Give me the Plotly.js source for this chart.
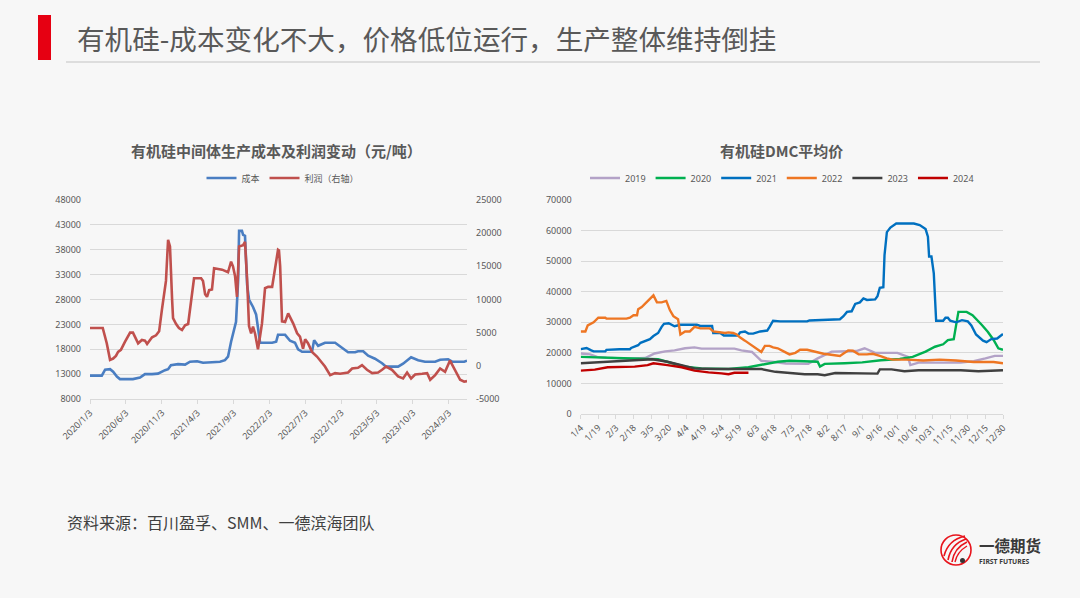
<!DOCTYPE html>
<html>
<head>
<meta charset="utf-8">
<script src="https://cdn.plot.ly/plotly-3.0.1.min.js"></script>
<style>
html,body{margin:0;padding:0;background:#f7f7f7;}
#chart{width:1080px;height:598px;}
</style>
</head>
<body>
<div id="chart"></div>
<script>
// ---------- Left chart: 有机硅中间体生产成本及利润变动 ----------
const costDates = ['2020-01-03','2020-02-22','2020-03-07','2020-03-28','2020-04-10','2020-04-26','2020-05-09','2020-07-03','2020-08-02','2020-08-23',
 '2020-09-22','2020-10-17','2020-11-16','2020-11-29','2020-12-11','2021-01-10','2021-02-09','2021-03-02','2021-04-01','2021-04-26',
 '2021-06-03','2021-07-07','2021-07-28','2021-08-10','2021-08-23','2021-09-04','2021-09-13','2021-09-22','2021-09-26','2021-10-08',
 '2021-10-13','2021-10-21','2021-10-30','2021-11-07','2021-11-24','2021-12-07','2021-12-15','2021-12-24','2022-02-13','2022-03-02',
 '2022-03-10','2022-04-09','2022-04-30','2022-05-21','2022-06-03','2022-06-20','2022-08-01','2022-08-10','2022-08-27','2022-09-25',
 '2022-11-07','2022-12-06','2023-01-01','2023-01-31','2023-02-12','2023-03-06','2023-03-27','2023-04-25','2023-05-25','2023-06-11',
 '2023-08-01','2023-08-22','2023-09-25','2023-10-25','2023-11-23','2024-01-05','2024-01-26','2024-02-29','2024-03-17','2024-05-07',
 '2024-05-19'];
const costValues = [12700,12700,13900,14000,13500,12500,12000,12000,12300,13000,
 13000,13100,13800,14000,14800,15000,14900,15500,15600,15300,
 15400,15500,15800,16500,19500,22000,23500,32000,41800,41800,
 41000,40800,31000,28000,26500,25000,22000,19300,19300,19500,
 20900,20900,19700,19300,18000,17500,17500,19800,18700,19300,
 19300,18200,17400,17400,17600,17600,16700,16100,15200,14500,
 14500,15100,16400,15800,15500,15500,15900,16000,15500,15500,
 15700];

const profitDates = ['2020-01-03','2020-02-26','2020-03-14','2020-03-28','2020-04-10','2020-04-22','2020-05-01','2020-05-13','2020-05-30','2020-06-21',
 '2020-07-03','2020-07-16','2020-07-25','2020-08-10','2020-08-23','2020-09-01','2020-09-22','2020-10-09','2020-10-22','2020-11-03',
 '2020-11-12','2020-11-20','2020-11-29','2020-12-07','2020-12-16','2020-12-20','2021-01-02','2021-01-14','2021-01-27','2021-02-09',
 '2021-02-22','2021-03-06','2021-03-19','2021-04-18','2021-04-26','2021-05-05','2021-05-13','2021-05-22','2021-06-03','2021-06-12',
 '2021-07-16','2021-08-10','2021-08-23','2021-08-31','2021-09-09','2021-09-17','2021-09-26','2021-10-13','2021-10-21','2021-10-30',
 '2021-11-07','2021-11-16','2021-11-24','2021-12-03','2021-12-15','2021-12-24','2022-01-01','2022-01-14','2022-01-27','2022-02-13',
 '2022-02-25','2022-03-10','2022-03-14','2022-03-19','2022-03-27','2022-04-09','2022-04-22','2022-05-13','2022-05-30','2022-06-11',
 '2022-06-24','2022-07-03','2022-07-15','2022-08-01','2022-08-22','2022-09-13','2022-09-25','2022-10-17','2022-11-07','2022-11-28',
 '2023-01-01','2023-01-18','2023-02-12','2023-03-01','2023-03-22','2023-04-13','2023-05-08','2023-05-25','2023-06-11','2023-07-06',
 '2023-08-01','2023-08-22','2023-09-08','2023-09-25','2023-10-12','2023-11-11','2023-12-02','2023-12-15','2024-01-05','2024-01-26',
 '2024-02-16','2024-03-08','2024-03-29','2024-04-20','2024-05-07','2024-05-19'];
const profitValues = [5700,5700,3400,900,1100,1500,2100,2400,3600,5000,
 5000,4100,3400,3900,3800,3300,4300,4600,5200,8500,
 10500,12800,19000,18000,10000,7200,6300,5700,5400,6100,
 6300,9500,13200,13200,12800,10800,10400,11400,11500,14700,
 14500,14100,15700,15000,13500,10400,18000,18200,18700,13000,
 6000,4900,5900,4800,2500,4500,6400,11700,11900,11900,
 14900,17500,17400,15000,6700,6600,7900,6400,4900,4400,
 2600,4000,3400,2100,1400,400,-100,-1400,-1100,-1200,
 -1000,-400,-300,100,-600,-1100,-1000,-600,-100,-600,
 -1600,-1900,-1000,-1900,-1300,-1200,-1100,-2100,-1400,-400,
 -900,800,-600,-2100,-2400,-2300];

const leftTickDates = ['2020-01-03','2020-06-03','2020-11-03','2021-04-03','2021-09-03','2022-02-03','2022-07-03','2022-12-03','2023-05-03','2023-10-03','2024-03-03'];
const leftTickText  = ['2020/1/3','2020/6/3','2020/11/3','2021/4/3','2021/9/3','2022/2/3','2022/7/3','2022/12/3','2023/5/3','2023/10/3','2024/3/3'];
const leftYTicks  = [8000,13000,18000,23000,28000,33000,38000,43000,48000];
const rightYTicks = [-5000,0,5000,10000,15000,20000,25000];

// ---------- Right chart: 有机硅DMC平均价 (x = day index from 1/4) ----------
const day2019 = [0,8,14,22,40,55,63,72,80,89,97,103,131,137,146,150,154,165,175,194,202,214,225,235,242,251,270,279,281,288,324,335,345,353,360];
const val2019 = [19800,19500,18700,18400,18100,18300,19800,20500,20800,21500,21800,21400,21400,20800,20300,18700,17400,17000,16500,16400,18200,20400,20400,20600,21500,20000,20000,18700,16000,16800,16800,17300,18200,19000,19000];

const day2020 = [0,23,46,66,78,89,103,126,143,157,168,178,193,202,204,208,225,240,256,272,283,294,302,309,313,318,320,322,329,334,342,347,352,356,360];
const val2020 = [18700,18400,18100,17900,16600,15500,14900,14700,15300,16350,17100,17400,17200,17100,15500,16400,16600,16900,17600,18000,18700,20400,22000,22800,24200,24500,29000,33400,33400,32300,29100,26900,24200,21500,21000];

const day2021 = [0,5,9,11,21,22,33,42,43,46,49,51,56,59,62,66,69,71,75,78,80,85,99,102,112,113,119,122,134,136,140,143,147,153,159,161,164,170,193,195,
 215,221,224,227,231,234,238,241,244,251,253,255,258,259,261,264,269,284,289,294,296,297,299,301,303,309,311,313,315,320,325,330,333,337,343,346,350,355,360];
const val2021 = [21200,21600,20800,20500,20500,21000,21200,21200,21600,22000,22500,23300,24000,24500,25500,26500,28500,29500,29700,29200,28700,29200,29200,28800,28800,26500,26500,25700,25700,26700,27000,26300,26300,27000,27300,28500,30500,30300,30300,30600,
 30800,31000,32000,33400,33600,36000,36500,37800,37300,37500,38500,41300,41500,52000,59500,61000,62300,62300,61800,60500,58000,51500,51500,46000,30500,30500,31500,31500,30500,30000,30700,30300,29000,26000,24000,23500,24500,24700,26200];

const day2022 = [0,4,6,11,15,21,22,39,42,45,48,49,52,56,60,62,65,69,73,76,79,83,85,89,93,97,102,110,113,119,123,126,130,133,136,140,144,150,154,157,
 161,164,168,173,178,183,187,193,201,207,215,221,225,228,232,237,244,249,255,261,266,278,292,306,320,329,335,352,360];
const val2022 = [27000,27000,29000,30000,31500,31500,31200,31200,31500,32300,32300,34300,35000,36500,38000,38800,36500,36500,37000,34000,32000,31000,26000,27000,27000,28500,28000,28000,27000,26800,26500,26700,26500,26000,25000,24000,23000,21500,20300,22300,
 22300,21800,21500,20500,19500,20000,21000,21000,20300,19700,19300,19000,20000,20800,20700,19500,19500,19700,19000,18200,17800,17800,17500,17800,17500,17200,17000,17000,16600];

const day2023 = [0,23,46,61,74,86,97,115,154,166,174,191,202,208,217,248,253,255,265,276,288,324,339,360];
const val2023 = [16600,17100,17650,17900,17100,16000,14900,14700,14700,13800,13600,13000,13000,12700,13400,13400,13200,14600,14600,14000,14300,14300,14000,14300];

const day2024 = [0,12,23,46,57,62,74,86,97,109,120,126,131,143];
const val2024 = [14200,14500,15300,15500,16000,16600,16000,15300,14200,13600,13300,13000,13500,13500];

const dmcTickDays = [0,15,30,45,60,75,90,105,120,135,150,165,180,195,210,225,240,255,270,285,300,315,330,345,360];
const dmcTickText = ['1/4','1/19','2/3','2/18','3/5','3/20','4/4','4/19','5/4','5/19','6/3','6/18','7/3','7/18','8/2','8/17','9/1','9/16','10/1','10/16','10/31','11/15','11/30','12/15','12/30'];
const dmcYTicks = [0,10000,20000,30000,40000,50000,60000,70000];

// ---------- helpers (pixel -> paper) ----------
const W = 1080, H = 598;
const px = x => x / W;
const py = y => 1 - y / H;
const CJK = '"Noto Sans CJK SC", "Noto Sans", sans-serif';
const NUM = '"Noto Sans", "DejaVu Sans", sans-serif';
const GRID = '#d9d9d9';
const TXT = '#595959';
const asText = arr => arr.map(v => String(v));

const traces = [
  {x: costDates, y: costValues, name: '成本', type: 'scatter', mode: 'lines',
   line: {color: '#4a7ec2', width: 2.6}, xaxis: 'x', yaxis: 'y', legend: 'legend'},
  {x: profitDates, y: profitValues, name: '利润（右轴）', type: 'scatter', mode: 'lines',
   line: {color: '#c0504d', width: 2.6}, xaxis: 'x', yaxis: 'y2', legend: 'legend'},
  {x: day2019, y: val2019, name: '2019', type: 'scatter', mode: 'lines', line: {color: '#b3a2c7', width: 2.4}, xaxis: 'x3', yaxis: 'y3', legend: 'legend2'},
  {x: day2020, y: val2020, name: '2020', type: 'scatter', mode: 'lines', line: {color: '#00b050', width: 2.4}, xaxis: 'x3', yaxis: 'y3', legend: 'legend2'},
  {x: day2021, y: val2021, name: '2021', type: 'scatter', mode: 'lines', line: {color: '#0070c0', width: 2.4}, xaxis: 'x3', yaxis: 'y3', legend: 'legend2'},
  {x: day2022, y: val2022, name: '2022', type: 'scatter', mode: 'lines', line: {color: '#ee7623', width: 2.4}, xaxis: 'x3', yaxis: 'y3', legend: 'legend2'},
  {x: day2023, y: val2023, name: '2023', type: 'scatter', mode: 'lines', line: {color: '#404040', width: 2.4}, xaxis: 'x3', yaxis: 'y3', legend: 'legend2'},
  {x: day2024, y: val2024, name: '2024', type: 'scatter', mode: 'lines', line: {color: '#c00000', width: 2.4}, xaxis: 'x3', yaxis: 'y3', legend: 'legend2'}
];

const tickFont = {family: NUM, size: 9, color: TXT};

const layout = {
  width: W, height: H,
  margin: {l: 0, r: 0, t: 0, b: 0},
  paper_bgcolor: '#f7f7f7',
  plot_bgcolor: '#f7f7f7',
  font: {family: CJK, size: 9, color: TXT},
  showlegend: true,
  xaxis: {
    domain: [px(90), px(467)], anchor: 'y', type: 'date',
    range: ['2020-01-03', '2024-05-19'],
    tickmode: 'array', tickvals: leftTickDates, ticktext: leftTickText,
    tickangle: -45, tickfont: tickFont,
    showgrid: false, zeroline: false,
    showline: true, linecolor: GRID, linewidth: 1,
    ticks: 'outside', ticklen: 4, tickcolor: GRID
  },
  yaxis: {
    domain: [py(399), py(200)], anchor: 'x',
    range: [8000, 48000], tickmode: 'array', tickvals: leftYTicks, ticktext: asText(leftYTicks),
    tickfont: tickFont, showgrid: true, gridcolor: GRID, gridwidth: 1,
    zeroline: false, showline: false, ticks: '', ticklabelstandoff: 8
  },
  yaxis2: {
    overlaying: 'y', side: 'right', anchor: 'x',
    range: [-5000, 25000], tickmode: 'array', tickvals: rightYTicks, ticktext: asText(rightYTicks),
    tickfont: tickFont, showgrid: false, zeroline: false, showline: false,
    ticks: '', ticklabelstandoff: 8
  },
  xaxis3: {
    domain: [px(580.7), px(1003)], anchor: 'y3',
    range: [0, 360], tickmode: 'array', tickvals: dmcTickDays, ticktext: dmcTickText,
    tickangle: -45, tickfont: tickFont,
    showgrid: false, zeroline: false,
    showline: true, linecolor: GRID, linewidth: 1,
    ticks: 'outside', ticklen: 4, tickcolor: GRID
  },
  yaxis3: {
    domain: [py(414), py(200)], anchor: 'x3',
    range: [0, 70000], tickmode: 'array', tickvals: dmcYTicks, ticktext: asText(dmcYTicks),
    tickfont: tickFont, showgrid: true, gridcolor: GRID, gridwidth: 1,
    zeroline: false, showline: false, ticks: '', ticklabelstandoff: 8
  },
  legend: {
    orientation: 'h', x: px(283), xanchor: 'center', y: py(178), yanchor: 'middle',
    bgcolor: 'rgba(0,0,0,0)', font: {family: CJK, size: 9, color: TXT},
    itemwidth: 30, tracegroupgap: 0
  },
  legend2: {
    orientation: 'h', x: px(782), xanchor: 'center', y: py(178), yanchor: 'middle',
    bgcolor: 'rgba(0,0,0,0)', font: {family: NUM, size: 9, color: TXT},
    itemwidth: 30, tracegroupgap: 0
  },
  shapes: [
    // header red bar
    {type: 'rect', xref: 'paper', yref: 'paper', x0: px(38), x1: px(51), y0: py(60), y1: py(15),
     fillcolor: '#e60012', line: {width: 0}},
    // header divider
    {type: 'line', xref: 'paper', yref: 'paper', x0: px(66), x1: px(1040), y0: py(62), y1: py(62),
     line: {color: '#d4d4d4', width: 1.5}},
    // logo circle
    {type: 'circle', xref: 'paper', yref: 'paper', x0: px(941), x1: px(971), y0: py(565), y1: py(535),
     line: {color: '#e8141c', width: 1.6}},
    {type: 'path', xref: 'paper', yref: 'paper',
     path: `M ${px(944)} ${py(556)} Q ${px(948)} ${py(540)} ${px(965)} ${py(536)}`, line: {color: '#e8141c', width: 1.6}},
    {type: 'path', xref: 'paper', yref: 'paper',
     path: `M ${px(948)} ${py(560)} Q ${px(951)} ${py(544)} ${px(966)} ${py(539)}`, line: {color: '#e8141c', width: 1.6}},
    {type: 'path', xref: 'paper', yref: 'paper',
     path: `M ${px(952)} ${py(562)} Q ${px(954)} ${py(548)} ${px(967)} ${py(542)}`, line: {color: '#e8141c', width: 1.6}},
    {type: 'path', xref: 'paper', yref: 'paper',
     path: `M ${px(955)} ${py(562)} Q ${px(957)} ${py(552)} ${px(967)} ${py(546)}`, line: {color: '#e8141c', width: 1.4}},
    {type: 'circle', xref: 'paper', yref: 'paper', x0: px(960), x1: px(965), y0: py(563), y1: py(558),
     fillcolor: '#333333', line: {width: 0}}
  ],
  annotations: [
    {text: '有机硅-成本变化不大，价格低位运行，生产整体维持倒挂', xref: 'paper', yref: 'paper',
     x: px(75), y: py(38), xanchor: 'left', yanchor: 'middle', showarrow: false,
     font: {family: CJK, size: 27.6, color: '#595959'}},
    {text: '<b>有机硅中间体生产成本及利润变动（元/吨）</b>', xref: 'paper', yref: 'paper',
     x: px(276), y: py(150), xanchor: 'center', yanchor: 'middle', showarrow: false,
     font: {family: CJK, size: 15, color: '#595959'}},
    {text: '<b>有机硅DMC平均价</b>', xref: 'paper', yref: 'paper',
     x: px(781), y: py(150), xanchor: 'center', yanchor: 'middle', showarrow: false,
     font: {family: CJK, size: 15, color: '#595959'}},
    {text: '资料来源：百川盈孚、SMM、一德滨海团队', xref: 'paper', yref: 'paper',
     x: px(65), y: py(522), xanchor: 'left', yanchor: 'middle', showarrow: false,
     font: {family: CJK, size: 16, color: '#404040'}},
    {text: '<b>一德期货</b>', xref: 'paper', yref: 'paper',
     x: px(977), y: py(545), xanchor: 'left', yanchor: 'middle', showarrow: false,
     font: {family: CJK, size: 15.5, color: '#3a3a3a'}},
    {text: '<b>FIRST FUTURES</b>', xref: 'paper', yref: 'paper',
     x: px(977), y: py(561.5), xanchor: 'left', yanchor: 'middle', showarrow: false,
     font: {family: NUM, size: 6.8, color: '#3a3a3a'}}
  ]
};

Plotly.newPlot('chart', traces, layout, {displayModeBar: false, staticPlot: true});
</script>
</body>
</html>
